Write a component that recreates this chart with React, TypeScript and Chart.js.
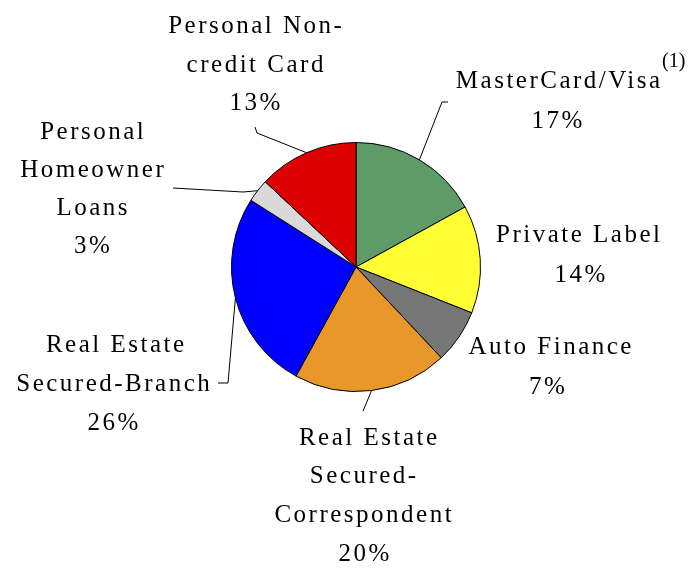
import React, { useEffect, useRef } from "react";
import { Chart, registerables } from "chart.js";

Chart.register(...registerables);

// ---- data ----
const categories = [
  "MasterCard/Visa",
  "Private Label",
  "Auto Finance",
  "Real Estate Secured-Correspondent",
  "Real Estate Secured-Branch",
  "Personal Homeowner Loans",
  "Personal Non-credit Card",
];
const shares = [17, 14, 7, 20, 26, 3, 13];
const sliceColors = ["#5f9a69", "#ffff33", "#777777", "#e8982a", "#0000ff", "#d9d9d9", "#dd0000"];

// label text lines per slice (the last line is the percentage)
const labelLines = [
  ["MasterCard/Visa", "17%"],
  ["Private Label", "14%"],
  ["Auto Finance", "7%"],
  ["Real Estate", "Secured-", "Correspondent", "20%"],
  ["Real Estate", "Secured-Branch", "26%"],
  ["Personal", "Homeowner", "Loans", "3%"],
  ["Personal Non-", "credit Card", "13%"],
];

// ---- layout (text placement and leader-line elbows) ----
const labelLayout: { x: number[]; y: number[]; leader: [number, number][] | null }[] = [
  { x: [558, 557], y: [88, 128], leader: [[442, 102], [448, 102]] },
  { x: [578, 580], y: [242, 282], leader: null },
  { x: [550, 547], y: [354, 394], leader: null },
  { x: [368, 363, 363, 364], y: [445, 483, 522, 561], leader: [[363, 411]] },
  { x: [115, 113, 113], y: [352, 391, 430], leader: [[228, 383], [218, 383]] },
  { x: [92, 92, 92, 92], y: [139, 177, 215, 253], leader: [[243, 192], [173, 188]] },
  { x: [255, 255, 255], y: [33, 72, 110], leader: [[257, 133], [255, 127]] },
];

const FONT = '25px "Liberation Serif", "Times New Roman", serif';

const labelPlugin = {
  id: "pieLabels",
  afterDraw(chart: any) {
    const ctx = chart.ctx as CanvasRenderingContext2D;
    const meta = chart.getDatasetMeta(0);
    ctx.save();
    // leader lines
    ctx.strokeStyle = "#000";
    ctx.lineWidth = 1;
    meta.data.forEach((arc: any, i: number) => {
      const lay = labelLayout[i];
      if (!lay || !lay.leader) return;
      const p = arc.getProps(["x", "y", "startAngle", "endAngle", "outerRadius"], true);
      const mid = (p.startAngle + p.endAngle) / 2;
      const sx = p.x + Math.cos(mid) * p.outerRadius;
      const sy = p.y + Math.sin(mid) * p.outerRadius;
      ctx.beginPath();
      ctx.moveTo(sx, sy);
      lay.leader.forEach(([lx, ly]) => ctx.lineTo(lx, ly));
      ctx.stroke();
    });
    // text
    ctx.fillStyle = "#000";
    ctx.font = FONT;
    (ctx as any).letterSpacing = "2.5px";
    ctx.textBaseline = "alphabetic";
    ctx.textAlign = "left";
    labelLines.forEach((lines, i) => {
      const lay = labelLayout[i];
      lines.forEach((t, j) => {
        const w = ctx.measureText(t).width - 2.5;
        ctx.fillText(t, lay.x[j] - w / 2, lay.y[j]);
      });
    });
    // footnote marker
    ctx.font = '20px "Liberation Serif", "Times New Roman", serif';
    (ctx as any).letterSpacing = "0px";
    ctx.fillText("(1)", 662, 67);
    ctx.restore();
  },
};

export default function App() {
  const ref = useRef<HTMLCanvasElement>(null);
  useEffect(() => {
    document.body.style.margin = "0";
    const chart = new Chart(ref.current!, {
      type: "pie",
      data: {
        labels: categories,
        datasets: [
          {
            data: shares,
            backgroundColor: sliceColors,
            borderColor: "#000",
            borderWidth: 1,
          },
        ],
      },
      options: {
        responsive: false,
        animation: false,
        layout: { padding: { left: 231, right: 209, top: 142, bottom: 177 } },
        plugins: {
          legend: { display: false },
          tooltip: { enabled: false },
        },
      },
      plugins: [labelPlugin],
    });
    return () => chart.destroy();
  }, []);
  return (
    <div style={{ position: "absolute", left: 0, top: 0, width: 690, height: 569, background: "#fff" }}>
      <canvas ref={ref} width={690} height={569} />
    </div>
  );
}
